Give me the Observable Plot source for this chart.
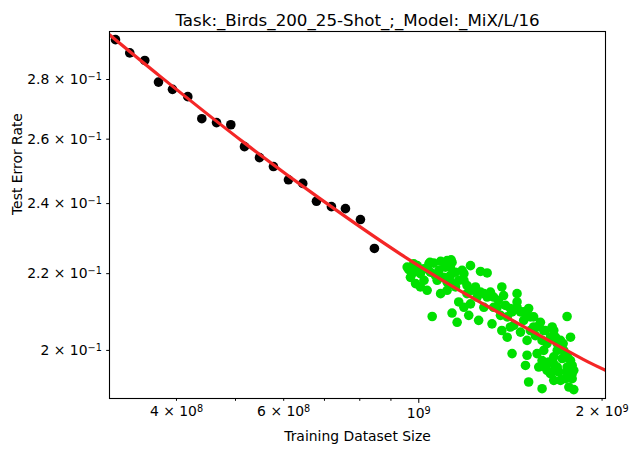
<!DOCTYPE html>
<html>
<head>
<meta charset="utf-8">
<script src="https://cdn.jsdelivr.net/npm/d3@7"></script>
<script src="https://cdn.jsdelivr.net/npm/@observablehq/plot@0.6"></script>
<style>
  html, body { margin: 0; padding: 0; background: #fff; }
  #chart { width: 637px; height: 457px; }
</style>
</head>
<body>
<div id="chart"></div>
<script>
// Observed (black) points
const blackX = [3.176e8, 3.352e8, 3.548e8, 3.737e8, 3.940e8, 4.175e8, 4.402e8, 4.654e8, 4.912e8, 5.173e8,
                5.475e8, 5.772e8, 6.109e8, 6.448e8, 6.791e8, 7.187e8, 7.578e8, 8.020e8, 8.455e8];
const blackY = [0.2942, 0.2894, 0.2867, 0.2791, 0.2766, 0.2741, 0.2667, 0.2654, 0.2647, 0.2576,
                0.2541, 0.2513, 0.2472, 0.2461, 0.2407, 0.2391, 0.2385, 0.2353, 0.2270];

// Predicted (green) points, x in units of 1e9
const greenX = [0.963,0.981,0.969,0.988,1.006,1.039,1.058,1.086,1.079,1.106,1.134,1.127,1.032,1.052,1.086,1.134,1.156,1.163,1.178,1.186,
  1.216,1.216,1.208,1.254,1.263,1.295,1.239,1.279,1.311,1.327,1.319,1.369,1.378,1.362,1.397,1.423,1.450,1.469,1.432,1.487,
  1.506,1.506,1.497,1.515,1.544,1.584,1.554,1.564,1.594,1.614,1.624,1.656,1.677,1.666,1.645,1.709,1.726,1.752,1.775,1.741,
  1.752,1.786,1.764,1.797,1.786,1.688,1.709,1.635,1.604,1.688,1.730,1.656,1.525,1.469,1.414,1.397,1.345,1.279,1.247,1.200,
  1.186,1.149,1.113,1.072,1.020,1.369,1.450,1.423,1.515,1.544,1.594,1.604,1.666,1.720,1.594,1.574,1.624,1.666,1.741,0.981,
  0.994,1.020,1.045,1.065,1.099,1.113,1.134,1.163,1.200,1.223,1.263,1.295,1.327,1.351,1.388,1.414,1.450,1.487,1.525,1.564,
  1.614,1.645,1.688,1.720,1.752,1.775,1.786,1.797,1.752,1.699,1.666,1.043,1.113,1.149,1.186,1.127,0.975,1.006,0.957,1.130];
const greenY = [0.2211,0.2227,0.2190,0.2173,0.2200,0.2227,0.2229,0.2234,0.2209,0.2218,0.2231,0.2195,0.2155,0.2086,0.2146,0.2095,0.2071,0.2124,0.2209,0.2182,
  0.2222,0.2119,0.2089,0.2076,0.2206,0.2202,0.2164,0.2146,0.2150,0.2110,0.2067,0.2164,0.2141,0.2089,0.2033,0.1992,0.2124,0.2098,0.2063,0.2076,
  0.2025,0.1988,0.1963,0.1923,0.2085,0.2071,0.2037,0.1992,0.1907,0.1959,0.2017,0.2059,0.2033,0.1984,0.1943,0.2025,0.2017,0.2086,0.2033,0.1984,
  0.1959,0.1943,0.1911,0.1905,0.1931,0.1959,0.1927,0.1971,0.2000,0.2000,0.2000,0.1947,0.2050,0.2046,0.2059,0.2085,0.2110,0.2110,0.2137,0.2146,
  0.2110,0.2164,0.2155,0.2182,0.2182,0.2050,0.2146,0.2098,0.2107,0.2059,0.2025,0.2050,0.2050,0.1980,0.1975,0.1959,0.1951,0.1927,0.1931,0.2209,
  0.2222,0.2213,0.2204,0.2195,0.2190,0.2177,0.2173,0.2182,0.2168,0.2155,0.2150,0.2137,0.2137,0.2128,0.2115,0.2107,0.2110,0.2098,0.2085,0.2059,
  0.2050,0.2033,0.2017,0.2004,0.1988,0.1975,0.1963,0.1951,0.1947,0.1947,0.1967,0.2231,0.2236,0.2204,0.2200,0.2218,0.2200,0.2164,0.2218,0.2238];

// Fitted curve (red)
const fitX = [3.105e8, 3.766e8, 5.171e8, 6.892e8, 9.332e8, 1.127e9, 1.378e9, 1.633e9, 1.900e9, 2.026e9];
const fitY = [0.2960, 0.2810, 0.2588, 0.2414, 0.2254, 0.2169, 0.2089, 0.2025, 0.1971, 0.1951];

// Ticks (text after "^" is drawn as a superscript)
const xMajorTicks = [1e9];
const xMajorLabels = ["10^9"];
const xMinorTicks = [4e8, 5e8, 6e8, 7e8, 8e8, 9e8, 2e9];
const xMinorLabels = ["4 × 10^8", "", "6 × 10^8", "", "", "", "2 × 10^9"];
const yTicks = [0.2, 0.22, 0.24, 0.26, 0.28];
const yTickLabels = ["2 × 10^−1", "2.2 × 10^−1", "2.4 × 10^−1", "2.6 × 10^−1", "2.8 × 10^−1"];

const titleText = "Task:_Birds_200_25-Shot_;_Model:_MiX/L/16";
const xLabel = "Training Dataset Size";
const yLabel = "Test Error Rate";

const black = blackX.map((x, i) => ({x, y: blackY[i]}));
const green = greenX.map((x, i) => ({x: x * 1e9, y: greenY[i]}));
const fit = fitX.map((x, i) => ({x, y: fitY[i]}));

const fmt = (vals, labels) => d => labels[vals.indexOf(d)] ?? "";

const chart = Plot.plot({
  width: 637,
  height: 457,
  marginLeft: 109,
  marginRight: 32,
  marginTop: 31,
  marginBottom: 59,
  style: {fontFamily: "DejaVu Sans", fontSize: "13.9px", color: "#000", background: "#fff"},
  x: {type: "log", domain: [3.105e8, 2.026e9]},
  y: {type: "log", domain: [0.1884, 0.2972]},
  marks: [
    Plot.dot(black, {x: "x", y: "y", r: 4.8, fill: "#000000", stroke: null}),
    Plot.dot(green, {x: "x", y: "y", r: 4.8, fill: "#00e000", stroke: null}),
    Plot.line(fit, {x: "x", y: "y", stroke: "#f42626", strokeWidth: 3.2, curve: "catmull-rom", clip: true}),
    Plot.frame({stroke: "#000", strokeWidth: 1.1}),
    Plot.axisX(xMajorTicks, {anchor: "bottom", tickSize: 4.9, tickPadding: 4.9, tickFormat: fmt(xMajorTicks, xMajorLabels), label: null, fontSize: 13.9}),
    Plot.axisX(xMinorTicks, {anchor: "bottom", tickSize: 2.8, tickPadding: 4.9, tickFormat: fmt(xMinorTicks, xMinorLabels), label: null, fontSize: 13.9}),
    Plot.axisY(yTicks, {anchor: "left", tickSize: 2.8, tickPadding: 4.9, tickFormat: fmt(yTicks, yTickLabels), label: null, fontSize: 13.9}),
    Plot.text([titleText], {frameAnchor: "top", dy: -17, fontSize: 16.7, fill: "#000"}),
    Plot.text([xLabel], {frameAnchor: "bottom", dy: 42, fontSize: 13.9, fill: "#000"}),
    Plot.text([yLabel], {frameAnchor: "left", dx: -92, rotate: -90, fontSize: 13.9, fill: "#000"})
  ]
});

// Render "base^sup" tick labels with a real superscript tspan
const NS = "http://www.w3.org/2000/svg";
chart.querySelectorAll("text").forEach(t => {
  const s = t.textContent;
  if (!s.includes("^")) return;
  const [base, sup] = s.split("^");
  while (t.firstChild) t.removeChild(t.firstChild);
  t.appendChild(document.createTextNode(base));
  const ts = document.createElementNS(NS, "tspan");
  ts.setAttribute("font-size", "9.7px");
  ts.setAttribute("dy", "-0.42em");
  ts.textContent = sup;
  t.appendChild(ts);
});
document.getElementById("chart").appendChild(chart);
</script>
</body>
</html>
